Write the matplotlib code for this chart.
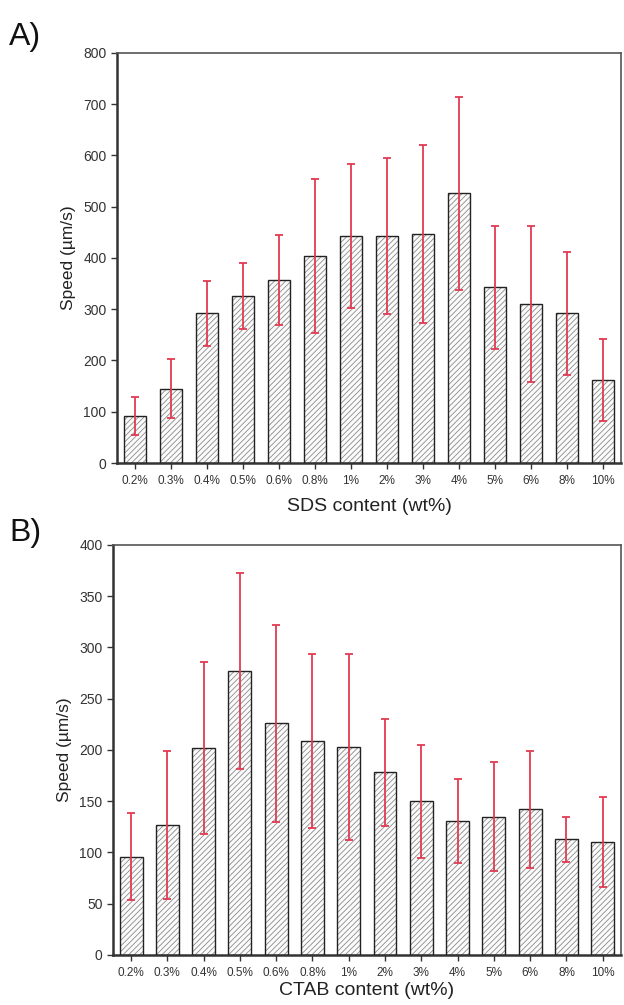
import matplotlib
matplotlib.use("Agg")
import matplotlib.pyplot as plt
import numpy as np

plt.rcParams['font.family'] = ['Liberation Sans', 'DejaVu Sans']
plt.rcParams['hatch.linewidth'] = 0.6

labels = ["0.2%", "0.3%", "0.4%", "0.5%", "0.6%", "0.8%", "1%",
          "2%", "3%", "4%", "5%", "6%", "8%", "10%"]

sds_speed = [91, 145, 292, 326, 357, 404, 443, 443, 447, 526, 343, 310, 292, 161]
sds_err = [37, 57, 64, 65, 88, 150, 141, 152, 173, 189, 120, 152, 120, 80]

ctab_speed = [96, 127, 202, 277, 226, 209, 203, 178, 150, 131, 135, 142, 113, 110]
ctab_err = [42, 72, 84, 96, 96, 85, 91, 52, 55, 41, 53, 57, 22, 44]

fig = plt.figure(figsize=(6.24, 10.05), dpi=100)

ax_a = fig.add_axes([0.1875, 0.5393, 0.8075, 0.408])
ax_b = fig.add_axes([0.181, 0.0498, 0.814, 0.408])

err_color = "#e23a52"


def draw_panel(ax, values, errors, ymax, ystep, xlabel, xpad):
    x = np.arange(len(values))
    # hatched fill in grey, then a black outline on top
    ax.bar(x, values, width=0.63, color="#fbfbfb", edgecolor="#8a8a8a",
           hatch="//////", linewidth=0, zorder=2)
    ax.bar(x, values, width=0.63, fill=False, edgecolor="#222222",
           linewidth=1.0, zorder=3)
    ax.errorbar(x, values, yerr=errors, fmt="none", ecolor=err_color,
                elinewidth=1.3, capsize=3, capthick=1.3, zorder=4)
    ax.set_xlim(-0.5, len(values) - 0.5)
    ax.set_ylim(0, ymax)
    ax.set_yticks(np.arange(0, ymax + 1, ystep))
    ax.set_xticks(x)
    ax.set_xticklabels(labels, fontsize=8.5, color="#333333")
    ax.tick_params(axis="y", labelsize=10, direction="out", length=4.5,
                   width=1, colors="#333333", pad=3)
    ax.tick_params(axis="x", direction="out", length=4.5, width=1, pad=4,
                   colors="#333333")
    ax.set_ylabel("Speed (\u00b5m/s)", fontsize=12.5, color="#222222", labelpad=5)
    ax.set_xlabel(xlabel, fontsize=14, color="#222222", labelpad=xpad)
    ax.spines["left"].set_linewidth(1.8)
    ax.spines["bottom"].set_linewidth(1.8)
    ax.spines["left"].set_color("#333333")
    ax.spines["bottom"].set_color("#333333")
    ax.spines["top"].set_linewidth(1.2)
    ax.spines["right"].set_linewidth(1.2)
    ax.spines["top"].set_color("#555555")
    ax.spines["right"].set_color("#555555")


draw_panel(ax_a, sds_speed, sds_err, 800, 100, "SDS content (wt%)", 8)
draw_panel(ax_b, ctab_speed, ctab_err, 400, 50, "CTAB content (wt%)", 2)

fig.text(0.015, 0.955, "A)", fontsize=23, color="#111111")
fig.text(0.015, 0.462, "B)", fontsize=23, color="#111111")

fig.savefig("out.png", dpi=100)
